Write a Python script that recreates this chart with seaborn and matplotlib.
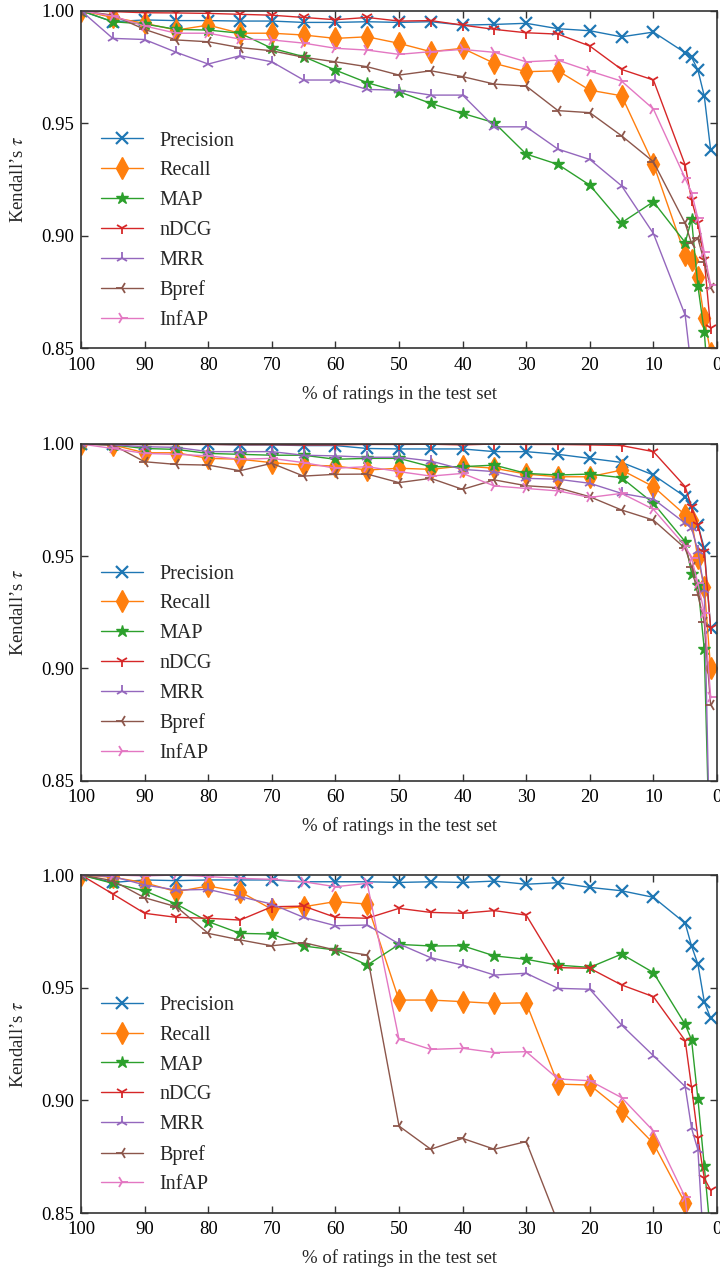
import matplotlib
matplotlib.use("Agg")
import matplotlib.pyplot as plt
import seaborn as sns
import numpy as np

# ---------------- data ----------------
pct = [100, 95, 90, 85, 80, 75, 70, 65, 60, 55, 50, 45, 40, 35, 30, 25, 20, 15, 10, 5, 4, 3, 2, 1]
metrics = ["Precision", "Recall", "MAP", "nDCG", "MRR", "Bpref", "InfAP"]

# panel 1
precision1 = [1.000, 0.9951, 0.9959, 0.9956, 0.9956, 0.9954, 0.9954, 0.9948, 0.9948, 0.9951, 0.9948, 0.9951, 0.9936, 0.9939, 0.9944, 0.9920, 0.9911, 0.9884, 0.9905, 0.9813, 0.9793, 0.9736, 0.9621, 0.9381]
recall1 = [1.000, 0.997, 0.9944, 0.9914, 0.9936, 0.990, 0.990, 0.9892, 0.9877, 0.9884, 0.9855, 0.9818, 0.9833, 0.9766, 0.9729, 0.9733, 0.9647, 0.9622, 0.9319, 0.8914, 0.8892, 0.8818, 0.8633, 0.848]
map1 = [1.000, 0.9951, 0.9941, 0.9917, 0.9914, 0.990, 0.9833, 0.9796, 0.9736, 0.968, 0.964, 0.9588, 0.9544, 0.9502, 0.9363, 0.9317, 0.9225, 0.9058, 0.9151, 0.897, 0.9073, 0.8776, 0.8573, 0.82]
ndcg1 = [1.000, 0.9996, 0.9991, 0.999, 0.9988, 0.9984, 0.998, 0.997, 0.996, 0.997, 0.9954, 0.9956, 0.9936, 0.9917, 0.9902, 0.9896, 0.9843, 0.9739, 0.9692, 0.9314, 0.9159, 0.9055, 0.8892, 0.8588]
mrr1 = [1.000, 0.9877, 0.9872, 0.9815, 0.9763, 0.980, 0.9773, 0.9692, 0.9692, 0.965, 0.9647, 0.9625, 0.9625, 0.9484, 0.9484, 0.9385, 0.9339, 0.9222, 0.901, 0.8647, 0.84, 0.82, 0.80, 0.78]
bpref1 = [1.000, 0.998, 0.9917, 0.987, 0.9862, 0.9836, 0.9822, 0.9793, 0.9773, 0.9751, 0.9714, 0.9733, 0.9707, 0.9674, 0.9665, 0.9556, 0.9547, 0.9444, 0.9329, 0.9055, 0.8966, 0.8988, 0.8884, 0.877]
infap1 = [1.000, 0.9976, 0.9932, 0.990, 0.990, 0.9874, 0.987, 0.9856, 0.9833, 0.9825, 0.9806, 0.9818, 0.9828, 0.9815, 0.9773, 0.978, 0.9732, 0.9687, 0.9563, 0.9255, 0.9191, 0.9077, 0.8926, 0.8781]

# panel 2
precision2 = [1.000, 1.000, 0.9999, 0.9999, 0.9999, 0.9996, 0.9996, 0.9993, 0.9993, 0.998, 0.9978, 0.9978, 0.9978, 0.9966, 0.9966, 0.9954, 0.9936, 0.9918, 0.9862, 0.9765, 0.9725, 0.964, 0.9535, 0.918]
recall2 = [1.000, 0.9996, 0.9961, 0.9961, 0.9936, 0.9932, 0.9917, 0.9906, 0.9902, 0.9884, 0.9892, 0.9887, 0.9902, 0.9892, 0.9866, 0.9854, 0.9854, 0.9884, 0.981, 0.9684, 0.9661, 0.949, 0.9364, 0.900]
map2 = [1.000, 0.9996, 0.998, 0.9976, 0.9958, 0.9954, 0.995, 0.995, 0.9932, 0.9936, 0.9936, 0.9899, 0.9899, 0.9906, 0.9869, 0.9862, 0.9866, 0.985, 0.9736, 0.9565, 0.9423, 0.9372, 0.9085, 0.80]
ndcg2 = [1.000, 0.9999, 0.9998, 0.9998, 0.9998, 0.9997, 0.9997, 0.9996, 0.9996, 0.9998, 0.9998, 0.9999, 0.9996, 1.000, 0.9998, 0.9998, 0.9996, 0.9993, 0.9966, 0.981, 0.972, 0.9639, 0.952, 0.918]
mrr2 = [1.000, 0.9996, 0.9988, 0.9985, 0.9966, 0.9966, 0.9966, 0.995, 0.9947, 0.9941, 0.9941, 0.9924, 0.9887, 0.9877, 0.9847, 0.9843, 0.9825, 0.978, 0.9755, 0.9647, 0.9624, 0.9525, 0.935, 0.80]
bpref2 = [1.000, 0.9996, 0.9921, 0.9909, 0.9906, 0.9881, 0.9914, 0.9857, 0.9865, 0.9866, 0.9828, 0.9847, 0.9798, 0.984, 0.9814, 0.9805, 0.9765, 0.9706, 0.9661, 0.9535, 0.9453, 0.9327, 0.9208, 0.8837]
infap2 = [1.000, 0.998, 0.9958, 0.9954, 0.9947, 0.9932, 0.9936, 0.9917, 0.9892, 0.9899, 0.9877, 0.9857, 0.9869, 0.9813, 0.9802, 0.9791, 0.9762, 0.978, 0.9709, 0.9546, 0.949, 0.9379, 0.9249, 0.8874]

# panel 3
precision3 = [1.000, 0.9967, 0.9978, 0.9975, 0.9978, 0.9978, 0.9978, 0.997, 0.997, 0.997, 0.9967, 0.997, 0.9967, 0.9973, 0.9959, 0.9966, 0.9945, 0.993, 0.9901, 0.9786, 0.9685, 0.9604, 0.9438, 0.9364]
recall3 = [1.000, 0.999, 0.9966, 0.9926, 0.9951, 0.9926, 0.9848, 0.9859, 0.9882, 0.9871, 0.9445, 0.9445, 0.9438, 0.943, 0.9433, 0.9072, 0.9068, 0.8954, 0.8809, 0.8543, 0.83, 0.81, 0.79, 0.77]
map3 = [1.000, 0.9963, 0.993, 0.9871, 0.9793, 0.9741, 0.9738, 0.9685, 0.9667, 0.960, 0.9692, 0.9685, 0.9686, 0.9641, 0.9626, 0.960, 0.959, 0.9649, 0.9567, 0.9337, 0.9268, 0.9006, 0.8709, 0.84]
ndcg3 = [1.000, 0.9916, 0.983, 0.9812, 0.9808, 0.980, 0.9859, 0.9862, 0.9812, 0.9808, 0.9852, 0.9834, 0.983, 0.9842, 0.9822, 0.9589, 0.9586, 0.9512, 0.946, 0.9265, 0.9058, 0.8834, 0.8654, 0.8602]
mrr3 = [1.000, 0.9993, 0.9956, 0.9933, 0.9936, 0.9904, 0.9871, 0.9812, 0.9775, 0.9778, 0.9694, 0.9633, 0.960, 0.9556, 0.9564, 0.9497, 0.9493, 0.9334, 0.9198, 0.9061, 0.8876, 0.878, 0.83, 0.80]
bpref3 = [1.000, 0.9975, 0.9899, 0.9859, 0.9741, 0.9712, 0.9686, 0.970, 0.9667, 0.9645, 0.8886, 0.8783, 0.8831, 0.8783, 0.8817, 0.8457, 0.84, 0.83, 0.82, 0.80, 0.79, 0.78, 0.77, 0.76]
infap3 = [1.000, 1.000, 0.9996, 1.000, 0.9993, 0.9985, 0.9981, 0.997, 0.9948, 0.9963, 0.9271, 0.9226, 0.9231, 0.9212, 0.9216, 0.9095, 0.9087, 0.9012, 0.8864, 0.857, 0.83, 0.81, 0.79, 0.77]

panels = [
    [precision1, recall1, map1, ndcg1, mrr1, bpref1, infap1],
    [precision2, recall2, map2, ndcg2, mrr2, bpref2, infap2],
    [precision3, recall3, map3, ndcg3, mrr3, bpref3, infap3],
]

x_ticks = [100, 90, 80, 70, 60, 50, 40, 30, 20, 10, 0]
y_ticks = [0.85, 0.90, 0.95, 1.00]

# ---------------- style ----------------
sns.set_theme(style="ticks")
plt.rcParams["font.family"] = ["Liberation Serif", "DejaVu Serif"]
plt.rcParams["mathtext.fontset"] = "stix"

colors = sns.color_palette("tab10", 7)
markers = ["x", "d", "*", "1", "2", "3", "4"]
msizes = [9, 11, 9, 9, 9, 9, 9]
mews = [1.6, 1.0, 1.0, 1.3, 1.3, 1.3, 1.3]

fig = plt.figure(figsize=(7.2, 12.69), dpi=100)
W, H = 720.0, 1269.0
tops = [10.7, 444.0, 875.0]
bottoms = [348.3, 780.7, 1213.0]
left_px, right_px = 81.0, 717.0

for p, series in enumerate(panels):
    ax = fig.add_axes([left_px / W, 1 - bottoms[p] / H,
                       (right_px - left_px) / W, (bottoms[p] - tops[p]) / H])
    for i, name in enumerate(metrics):
        sns.lineplot(x=pct, y=series[i], ax=ax, color=colors[i], label=name,
                     marker=markers[i], markersize=msizes[i],
                     markeredgecolor=colors[i], markerfacecolor=colors[i],
                     markeredgewidth=mews[i], linewidth=1.0, sort=False)
    ax.set_xlim(100, 0)
    ax.set_ylim(0.85, 1.0)
    ax.set_xticks(x_ticks)
    ax.set_xticklabels([str(t) for t in x_ticks])
    ax.set_yticks(y_ticks)
    ax.set_yticklabels([f"{t:.2f}" for t in y_ticks])
    ax.tick_params(direction="in", top=True, right=True, length=5, width=1.0,
                   labelsize=13.5, colors="#333333", labelcolor="black")
    ax.tick_params(axis="x", pad=6)
    ax.tick_params(axis="y", pad=5)
    for s in ax.spines.values():
        s.set_color("#333333")
        s.set_linewidth(1.2)
        s.set_visible(True)
    ax.set_xlabel("% of ratings in the test set", fontsize=13.5, labelpad=8)
    ax.set_ylabel("Kendall\u2019s $\\tau$", fontsize=13.5, labelpad=10)
    ax.legend(loc="upper left", bbox_to_anchor=(0.0, 0.702), frameon=False,
              fontsize=14.5, handlelength=2.1, handletextpad=0.8,
              labelspacing=0.53, borderaxespad=0.6)

fig.savefig("out.png", dpi=100)
